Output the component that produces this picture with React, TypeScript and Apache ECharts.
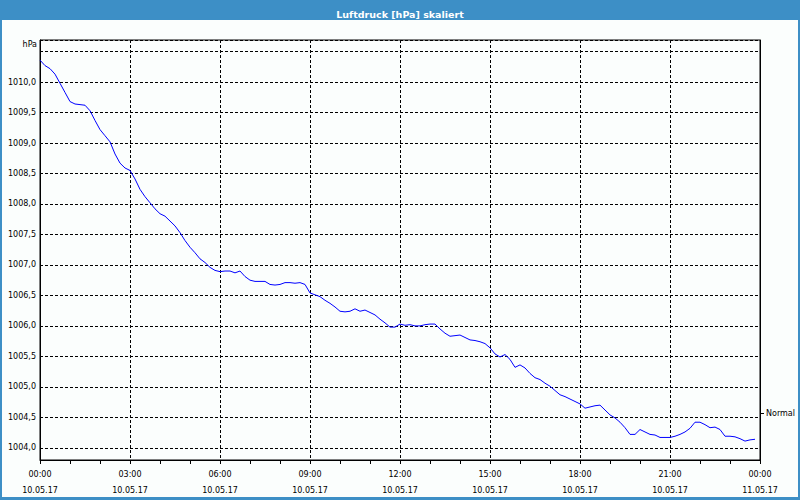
import React, { useEffect, useRef } from "react";
import * as echarts from "echarts";

// Pressure readings every 10 minutes from 00:00 (10.05.17) to 23:50
const pressure: number[] = [
  1010.36, 1010.27, 1010.22, 1010.13, 1009.98, 1009.83, 1009.68, 1009.64, 1009.63, 1009.62,
  1009.53, 1009.37, 1009.22, 1009.12, 1009.02, 1008.82, 1008.67, 1008.59, 1008.55, 1008.41,
  1008.24, 1008.12, 1008.02, 1007.92, 1007.84, 1007.80, 1007.72, 1007.64, 1007.53, 1007.40,
  1007.29, 1007.20, 1007.10, 1007.04, 1006.96, 1006.91, 1006.89, 1006.90, 1006.90, 1006.87,
  1006.90, 1006.81, 1006.75, 1006.73, 1006.73, 1006.73, 1006.68, 1006.67, 1006.68, 1006.71,
  1006.71, 1006.70, 1006.71, 1006.68, 1006.54, 1006.51, 1006.48, 1006.42, 1006.37, 1006.31,
  1006.24, 1006.23, 1006.24, 1006.28, 1006.24, 1006.26, 1006.22, 1006.18, 1006.11, 1006.05,
  1005.98, 1005.98, 1006.03, 1006.01, 1006.02, 1006.00, 1006.00, 1006.02, 1006.03, 1006.03,
  1005.95, 1005.88, 1005.83, 1005.84, 1005.85, 1005.81, 1005.77, 1005.76, 1005.74, 1005.71,
  1005.64, 1005.54, 1005.49, 1005.53, 1005.45, 1005.32, 1005.36, 1005.31, 1005.22, 1005.15,
  1005.12, 1005.06, 1005.01, 1004.94, 1004.87, 1004.84, 1004.80, 1004.76, 1004.72, 1004.65,
  1004.67, 1004.69, 1004.70, 1004.62, 1004.54, 1004.49, 1004.42, 1004.33, 1004.22, 1004.22,
  1004.30, 1004.26, 1004.22, 1004.21, 1004.17, 1004.17, 1004.17, 1004.19, 1004.22, 1004.26,
  1004.32, 1004.42, 1004.42, 1004.38, 1004.33, 1004.34, 1004.30, 1004.19, 1004.19, 1004.18,
  1004.15, 1004.11, 1004.13, 1004.14,
];
const sampleMinutes = 10;

const timeLabels: string[] = ["00:00", "03:00", "06:00", "09:00", "12:00", "15:00", "18:00", "21:00", "00:00"];
const dateLabels: string[] = [
  "10.05.17", "10.05.17", "10.05.17", "10.05.17", "10.05.17",
  "10.05.17", "10.05.17", "10.05.17", "11.05.17",
];
const yLabelValues: number[] = [1004.0, 1004.5, 1005.0, 1005.5, 1006.0, 1006.5, 1007.0, 1007.5, 1008.0, 1008.5, 1009.0, 1009.5, 1010.0];
const normalLevel: number[] = [1004.57];

const Y_MIN = 1003.8;
const Y_MAX = 1010.69;
const FONT = "DejaVu Sans";

export default function App() {
  const ref = useRef<HTMLDivElement>(null);

  useEffect(() => {
    if (!ref.current) return;
    const chart = echarts.init(ref.current, undefined, { renderer: "svg" });
    const data = pressure.map((v, i) => [i * sampleMinutes, v]);
    chart.setOption({
      animation: false,
      backgroundColor: "transparent",
      title: {
        text: "Luftdruck [hPa] skaliert",
        left: "center",
        top: 4,
        textStyle: { color: "#ffffff", fontWeight: "bold", fontSize: 9.5, fontFamily: FONT },
      },
      graphic: [
        {
          type: "text",
          x: 37,
          y: 44,
          style: {
            text: "hPa",
            align: "right",
            verticalAlign: "middle",
            fill: "#000",
            fontSize: 8,
            fontFamily: FONT,
          },
        },
      ],
      grid: {
        left: 40,
        right: 40,
        top: 40,
        bottom: 40,
        show: true,
        borderColor: "#000",
        borderWidth: 1,
        backgroundColor: "transparent",
      },
      xAxis: {
        type: "value",
        min: 0,
        max: 1440,
        interval: 180,
        axisLine: { show: true, lineStyle: { color: "#000", width: 1 } },
        axisTick: { show: true, length: 4, lineStyle: { color: "#000" } },
        minorTick: { show: true, splitNumber: 3, length: 4, lineStyle: { color: "#000" } },
        splitLine: { show: true, lineStyle: { color: "#000", type: [3, 2], width: 1 } },
        axisLabel: {
          margin: 6,
          color: "#000",
          fontSize: 8,
          fontFamily: FONT,
          lineHeight: 16,
          formatter: (v: number) => {
            const i = Math.round(v / 180);
            return `${timeLabels[i] ?? ""}\n${dateLabels[i] ?? ""}`;
          },
        },
      },
      yAxis: [
        {
          type: "value",
          min: Y_MIN,
          max: Y_MAX,
          splitNumber: 14,
          minInterval: 0.5,
          maxInterval: 0.5,
          axisLine: { show: true, lineStyle: { color: "#000", width: 1 } },
          axisTick: { show: false },
          splitLine: { show: true, lineStyle: { color: "#000", type: [3, 2], width: 1 } },
          axisLabel: {
            margin: 4,
            color: "#000",
            fontSize: 8,
            fontFamily: FONT,
            customValues: yLabelValues,
            formatter: (v: number) => {
              const ok = yLabelValues.some((t) => Math.abs(t - v) < 1e-6);
              return ok ? v.toFixed(1).replace(".", ",") : "";
            },
          },
        },
        {
          type: "value",
          position: "right",
          min: Y_MIN,
          max: Y_MAX,
          axisLine: { show: true, lineStyle: { color: "#000", width: 1 } },
          splitLine: { show: false },
          axisTick: {
            show: true,
            inside: false,
            length: 4,
            customValues: normalLevel,
            lineStyle: { color: "#000", width: 1 },
          },
          axisLabel: {
            margin: 6,
            color: "#000",
            fontSize: 8,
            fontFamily: FONT,
            customValues: normalLevel,
            formatter: () => "Normal",
          },
        },
      ],
      series: [
        {
          type: "line",
          data,
          showSymbol: false,
          symbol: "none",
          lineStyle: { color: "#0000ff", width: 1 },
          itemStyle: { color: "#0000ff" },
          silent: true,
        },
      ],
    });
    return () => chart.dispose();
  }, []);

  return (
    <div style={{ position: "fixed", left: 0, top: 0, width: 800, height: 500, background: "#3d8fc6" }}>
      <div style={{ position: "absolute", left: 2, top: 20, width: 796, height: 477, background: "#fbfefd" }} />
      <div ref={ref} style={{ position: "absolute", left: 0, top: 0, width: 800, height: 500 }} />
    </div>
  );
}
